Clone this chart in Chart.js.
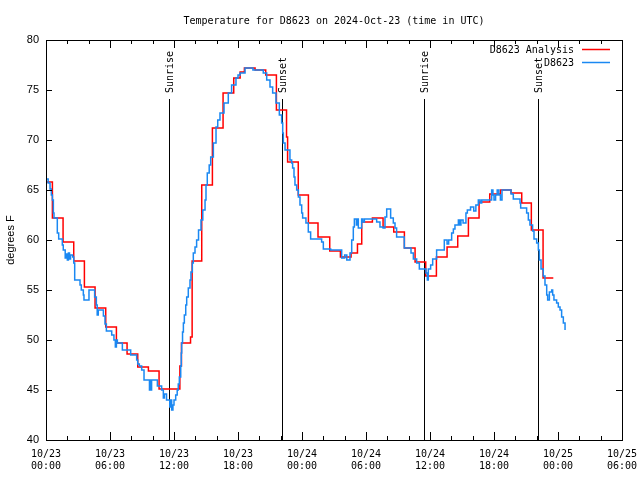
<!DOCTYPE html>
<html>
<head>
<meta charset="utf-8">
<title>Temperature for D8623</title>
<script src="https://cdn.jsdelivr.net/npm/chart.js@4/dist/chart.umd.min.js"></script>
<style>
  html, body { margin: 0; padding: 0; background: #fff; }
  #wrap { width: 640px; height: 480px; }
</style>
</head>
<body>
<div id="wrap"><canvas id="tempChart" width="640" height="480"></canvas></div>
<script>
// hours since 10/23 00:00 UTC
const analysisHours = [0.06, 0.6, 1.6, 2.6, 3.6, 4.6, 5.6, 6.6, 7.6, 8.6, 9.6, 10.6, 12.55, 12.7, 13.55, 13.7,
    14.6, 15.6, 16.6, 17.6, 18.2, 18.6, 19.6, 20.6, 21.6, 22.55, 22.65, 23.65, 24.6, 25.5, 26.6, 27.6, 28.6,
    29.2, 29.6, 30.6, 31.6, 32.6, 33.6, 34.6, 35.6, 36.6, 37.6, 38.6, 39.6, 40.6, 41.6, 42.6, 43.6, 44.6,
    45.5, 46.6, 47.56];
const analysisTemps = [65.8, 62.2, 59.8, 57.9, 55.3, 53.2, 51.3, 49.7, 48.6, 47.3, 46.9, 45.1, 47.4, 49.7, 50.3, 57.9,
    65.5, 71.2, 74.7, 76.2, 76.8, 77.2, 77.0, 76.5, 73.0, 70.3, 67.8, 64.5, 61.7, 60.3, 58.9, 58.3, 58.7,
    59.6, 61.8, 62.2, 61.3, 60.8, 59.2, 57.8, 56.4, 58.3, 59.3, 60.4, 62.2, 63.8, 64.6, 65.0, 64.7, 63.7,
    61.0, 56.2, 56.2];

const obsHours = [0.0, 0.2, 0.38, 0.5, 0.6, 0.69, 0.75, 1.06, 1.19, 1.53, 1.62, 1.8, 1.9, 2.0, 2.1, 2.2, 2.3, 2.5,
    2.6, 2.69, 3.19, 3.31, 3.5, 3.56, 4.03, 4.56, 4.72, 4.8, 4.9, 5.38, 5.53, 5.66, 6.16, 6.37, 6.5, 6.6, 6.69,
    7.16, 7.94, 8.5, 8.6, 8.75, 8.97, 9.19, 9.7, 9.75, 9.85, 9.9, 10.44, 10.84, 11.0, 11.1, 11.3, 11.6, 11.7,
    11.78, 11.9, 12.0, 12.16, 12.3, 12.4, 12.5, 12.63, 12.68, 12.72, 12.8, 12.88, 12.97, 13.1, 13.19, 13.34,
    13.5, 13.59, 13.72, 13.81, 13.97, 14.12, 14.3, 14.53, 14.7, 14.91, 15.0, 15.12, 15.3, 15.44, 15.69, 15.94,
    16.1, 16.31, 16.69, 17.09, 17.4, 17.81, 18.0, 18.19, 18.66, 19.4, 20.37, 20.69, 21.0, 21.25, 21.56, 21.875,
    22.09, 22.19, 22.25, 22.41, 22.87, 23.03, 23.12, 23.25, 23.34, 23.5, 23.66, 23.81, 23.97, 24.06, 24.37,
    24.59, 24.81, 25.84, 26.0, 26.69, 27.72, 28.0, 28.2, 28.5, 28.66, 28.81, 28.91, 29.1, 29.2, 29.28, 29.59,
    29.7, 29.85, 31.0, 31.31, 31.6, 31.78, 31.94, 32.25, 32.31, 32.56, 32.72, 32.87, 33.59, 34.22, 34.44, 34.75,
    35.0, 35.62, 35.75, 35.84, 36.06, 36.25, 36.62, 37.34, 37.6, 37.75, 38.03, 38.19, 38.34, 38.66, 38.8,
    38.9, 39.1, 39.37, 39.5, 39.8, 40.1, 40.3, 40.53, 40.7, 40.85, 41.78, 41.9, 42.0, 42.15, 42.3, 42.45,
    42.6, 42.75, 43.4, 43.6, 43.81, 44.44, 44.5, 45.06, 45.22, 45.37, 45.62, 45.75, 46.0, 46.16, 46.25,
    46.41, 46.62, 46.78, 46.94, 47.03, 47.19, 47.41, 47.5, 47.62, 47.87, 48.03, 48.19, 48.34, 48.5, 48.66];
const obsTemps = [66.1, 65.7, 65.1, 64.5, 64.0, 62.7, 62.2, 60.7, 60.1, 59.5, 59.0, 58.2, 58.6, 58.0, 58.7, 58.1, 58.5, 58.3,
    57.7, 56.0, 55.5, 55.0, 54.5, 54.0, 55.0, 54.3, 53.5, 52.5, 53.0, 52.4, 51.6, 50.9, 50.5, 50.0, 49.3, 50.0, 49.7,
    49.0, 48.5, 48.0, 47.6, 47.4, 47.0, 46.0, 45.0, 46.0, 45.0, 46.0, 45.4, 45.0, 44.2, 44.6, 44.0, 43.3, 44.0,
    43.0, 43.5, 44.0, 44.5, 45.0, 45.6, 46.3, 47.4, 48.7, 49.7, 50.8, 51.7, 52.5, 53.5, 54.3, 55.2,
    56.0, 56.8, 57.7, 58.7, 59.3, 60.0, 61.0, 62.0, 63.0, 64.0, 65.5, 66.7, 67.5, 68.3, 69.7, 71.3,
    72.0, 72.7, 73.7, 74.7, 75.5, 76.2, 76.5, 76.7, 77.2, 77.0, 76.7, 76.0, 75.3, 74.7, 73.7, 72.5,
    71.7, 70.7, 69.7, 69.0, 68.0, 67.7, 67.2, 66.3, 65.5, 65.0, 64.3, 63.5, 62.7, 62.2, 61.7,
    60.8, 60.1, 59.8, 59.1, 59.0, 58.2, 58.5, 58.0, 58.7, 60.0, 61.3, 62.1, 61.5, 62.1, 61.2, 62.1,
    61.8, 62.1, 61.8, 61.3, 61.2, 62.3, 63.1, 63.1, 62.2, 61.7, 61.2, 60.3, 59.2, 58.7, 58.1, 57.7,
    57.1, 56.7, 56.0, 57.1, 57.5, 58.1, 59.0, 60.0, 59.6, 60.0, 60.7, 61.1, 61.5, 62.0, 61.5,
    62.0, 61.7, 62.7, 63.0, 63.3, 62.9, 63.5, 64.0, 63.7, 64.0, 65.0, 64.5, 64.0, 64.5, 65.0, 64.5,
    64.0, 65.0, 65.0, 64.6, 64.1, 63.7, 63.2, 62.7, 62.0, 61.5, 60.9, 60.1, 59.7, 59.0, 58.0,
    57.1, 56.4, 55.5, 54.5, 54.0, 54.8, 55.0, 54.5, 54.0, 53.7, 53.3, 53.0, 52.3, 51.7, 51.0];

const tickDates = ["10/23", "10/23", "10/23", "10/23", "10/24", "10/24", "10/24", "10/24", "10/25", "10/25"];
const tickTimes = ["00:00", "06:00", "12:00", "18:00", "00:00", "06:00", "12:00", "18:00", "00:00", "06:00"];

const sunLabels = ["Sunrise", "Sunset", "Sunrise", "Sunset"];
const sunHours = [11.53, 22.12, 35.44, 46.12];

const MONO = "'DejaVu Sans Mono', 'Liberation Mono', monospace";
const SANS = "'Liberation Sans', Arial, sans-serif";

const toPoints = (xs, ys) => xs.map((x, i) => ({ x: x, y: ys[i] }));

// gnuplot-style frame, inward ticks, sun markers, legend and titles
const gnuplotFrame = {
    id: "gnuplotFrame",
    beforeDatasetsDraw(chart) {
        const { ctx, chartArea: a, scales: { x } } = chart;
        ctx.save();
        ctx.strokeStyle = "#000";
        ctx.lineWidth = 1;
        ctx.fillStyle = "#000";
        ctx.font = "10px " + MONO;
        sunHours.forEach((h, i) => {
            const px = Math.round(x.getPixelForValue(h)) + 0.5;
            ctx.beginPath();
            ctx.moveTo(px, 99);
            ctx.lineTo(px, a.bottom);
            ctx.stroke();
            ctx.save();
            ctx.translate(px + 1, 93);
            ctx.rotate(-Math.PI / 2);
            ctx.textAlign = "left";
            ctx.textBaseline = "middle";
            ctx.fillText(sunLabels[i], 0, 0);
            ctx.restore();
        });
        ctx.restore();
    },
    afterDraw(chart) {
        const { ctx, chartArea: a, scales: { x, y } } = chart;
        ctx.save();
        ctx.strokeStyle = "#000";
        ctx.lineWidth = 1;

        ctx.beginPath();
        // x ticks every 2 hours, major every 6
        for (let h = 0; h <= 54; h += 2) {
            const px = Math.round(x.getPixelForValue(h)) + 0.5;
            const len = h % 6 === 0 ? 8 : 4;
            ctx.moveTo(px, a.bottom);
            ctx.lineTo(px, a.bottom - len);
            ctx.moveTo(px, a.top);
            ctx.lineTo(px, a.top + len);
        }
        for (let t = 40; t <= 80; t += 5) {
            const py = Math.round(y.getPixelForValue(t)) + 0.5;
            ctx.moveTo(a.left, py);
            ctx.lineTo(a.left + 6, py);
            ctx.moveTo(a.right, py);
            ctx.lineTo(a.right - 6, py);
        }
        ctx.stroke();

        ctx.strokeRect(Math.round(a.left) + 0.5, Math.round(a.top) + 0.5,
            Math.round(a.right - a.left), Math.round(a.bottom - a.top));

        // title
        ctx.fillStyle = "#000";
        ctx.font = "10px " + MONO;
        ctx.textAlign = "center";
        ctx.textBaseline = "middle";
        ctx.fillText("Temperature for D8623 on 2024-Oct-23 (time in UTC)", (a.left + a.right) / 2, 21);

        // legend
        ctx.textAlign = "right";
        const legend = [
            { label: "D8623 Analysis", color: "#ff0000", y: 50 },
            { label: "D8623", color: "#1a88f2", y: 63 }
        ];
        legend.forEach(item => {
            ctx.fillStyle = "#000";
            ctx.fillText(item.label, 574, item.y);
            ctx.strokeStyle = item.color;
            ctx.lineWidth = 1.5;
            ctx.beginPath();
            ctx.moveTo(582, item.y - 0.5);
            ctx.lineTo(610, item.y - 0.5);
            ctx.stroke();
        });

        // y axis title
        ctx.fillStyle = "#000";
        ctx.font = "11px " + SANS;
        ctx.translate(11, (a.top + a.bottom) / 2);
        ctx.rotate(-Math.PI / 2);
        ctx.textAlign = "center";
        ctx.fillText("degrees F", 0, 0);
        ctx.restore();
    }
};

document.addEventListener("DOMContentLoaded", function () {
    const ctx = document.getElementById("tempChart").getContext("2d");

    new Chart(ctx, {
        type: "line",
        data: {
            datasets: [
                {
                    label: "D8623",
                    data: toPoints(obsHours, obsTemps),
                    borderColor: "#1a88f2",
                    borderWidth: 1.5,
                    stepped: true,
                    pointRadius: 0,
                    fill: false,
                    order: 1
                },
                {
                    label: "D8623 Analysis",
                    data: toPoints(analysisHours, analysisTemps),
                    borderColor: "#ff0000",
                    borderWidth: 1.5,
                    stepped: true,
                    pointRadius: 0,
                    fill: false,
                    order: 2
                }
            ]
        },
        options: {
            responsive: false,
            animation: false,
            layout: { padding: { left: 0, right: 18, top: 40, bottom: 0 } },
            plugins: {
                legend: { display: false },
                title: { display: false },
                tooltip: { enabled: false }
            },
            scales: {
                x: {
                    type: "linear",
                    min: 0,
                    max: 54,
                    afterFit: (scale) => {
                        scale.height = 40;
                        scale.paddingLeft = 0;
                        scale.paddingRight = 0;
                    },
                    border: { display: false },
                    grid: { display: false, drawTicks: false },
                    ticks: {
                        stepSize: 6,
                        padding: 8,
                        maxRotation: 0,
                        color: "#000",
                        font: { family: MONO, size: 10, lineHeight: 1.25 },
                        callback: (value) => {
                            const i = Math.round(value / 6);
                            return [tickDates[i], tickTimes[i]];
                        }
                    }
                },
                y: {
                    min: 40,
                    max: 80,
                    afterFit: (scale) => {
                        scale.width = 46;
                        scale.paddingTop = 0;
                        scale.paddingBottom = 0;
                    },
                    border: { display: false },
                    grid: { display: false, drawTicks: false },
                    ticks: {
                        stepSize: 5,
                        padding: 7,
                        color: "#000",
                        font: { family: SANS, size: 11 }
                    }
                }
            }
        },
        plugins: [gnuplotFrame]
    });
});
</script>
</body>
</html>
